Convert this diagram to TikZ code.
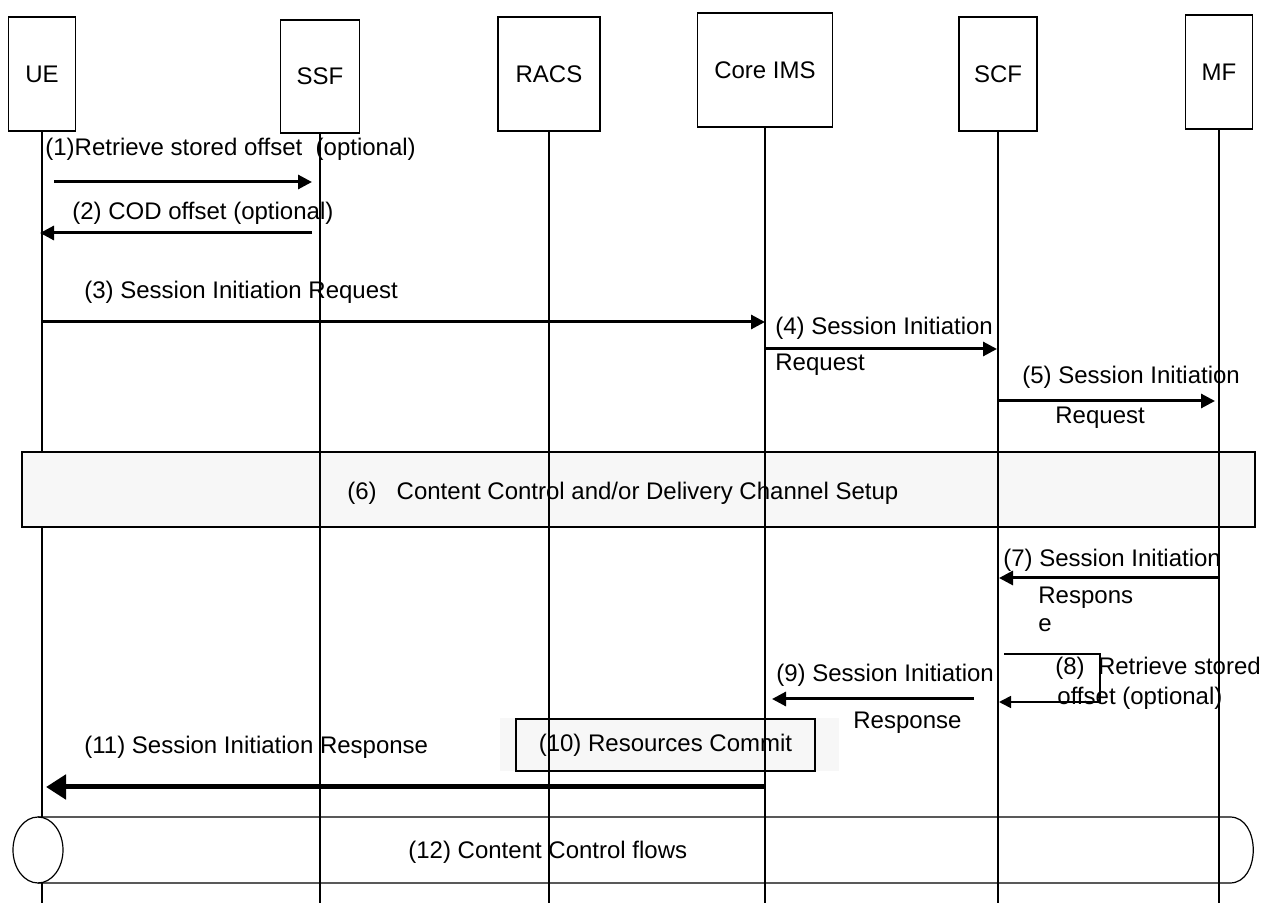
\documentclass[tikz,border=0pt]{standalone}
\usepackage{fontspec}
\setmainfont{Liberation Sans}
\usetikzlibrary{positioning, arrows.meta}

\begin{document}
\begin{tikzpicture}[x=0.5pt,y=-0.5pt,
  every node/.style={font=\fontsize{12}{14}\selectfont},
  actor/.style={draw,line width=0.6pt,inner sep=0pt,minimum height=57pt},
  life/.style={line width=0.6pt},
  msg/.style={line width=1.5pt,-{Triangle[length=7pt,width=7pt]}},
  bigmsg/.style={line width=2.5pt,-{Triangle[length=10pt,width=12pt]}},
  loopmsg/.style={line width=0.8pt,-{Triangle[length=6pt,width=6pt]}},
  lbl/.style={anchor=west,inner sep=0pt},
  phase/.style={draw,line width=0.6pt,fill=black!3,inner sep=0pt}]
\useasboundingbox (0,0) rectangle (1271,903);

% entities
\node[actor,minimum width=33.5pt] (ue) at (42,74) {UE};
\node[actor,minimum width=39.5pt,minimum height=56.5pt] (ssf) at (320,76.5) {SSF};
\node[actor,minimum width=51pt] (racs) at (549,74) {RACS};
\node[actor,minimum width=67.5pt] (ims) at (765,70) {Core IMS};
\node[actor,minimum width=39pt] (scf) at (998,74) {SCF};
\node[actor,minimum width=33.5pt] (mf) at (1219,72) {MF};

% shared steps
\node[phase,minimum width=616.5pt,minimum height=37.5pt] (setup) at (638.5,489.5) {};
\fill[black!3] (500,718) rectangle (839,771);
\node[phase,minimum width=149.5pt,minimum height=26pt] (commit) at (665.5,745) {(10) Resources Commit};

% lifelines
\coordinate (bottom) at (0,903);
\draw[life] (ue.south) -- (ue.south |- setup.north);
\draw[life] (ue.south |- setup.south) -- (ue.south |- 0,817);
\draw[life] (ue.south |- 0,883) -- (ue.south |- bottom);
\foreach \p in {ssf,racs,ims,scf,mf}{\draw[life] (\p.south) -- (\p.south |- bottom);}

% content control flows
\draw[life] (38,850) ellipse [x radius=12.5pt, y radius=16.5pt];
\draw[life] (38,817) -- (1230,817) .. controls (1261,817) and (1261,883) .. (1230,883) -- (38,883);
\node[lbl] (flows) at (408,852) {(12) Content Control flows};

\node[lbl] (setuptxt) at (347,493) {(6)\ \ \ Content Control and/or Delivery Channel Setup};

% messages
\coordinate (m1a) at (54,182);  \coordinate (m1b) at (312,182);
\coordinate (m2a) at (312,233); \coordinate (m2b) at (40,233);
\coordinate (m3a) at (42,322);  \coordinate (m3b) at (765,322);
\coordinate (m4a) at (765,349); \coordinate (m4b) at (997,349);
\coordinate (m5a) at (998,401); \coordinate (m5b) at (1215,401);
\coordinate (m7a) at (1218,578); \coordinate (m7b) at (999,578);
\coordinate (m8a) at (1004,654); \coordinate (m8b) at (1100,654);
\coordinate (m8c) at (1100,702); \coordinate (m8d) at (999,702);
\coordinate (m9a) at (974,699); \coordinate (m9b) at (772,699);
\coordinate (m11a) at (765,787); \coordinate (m11b) at (46,787);

\draw[msg] (m1a) -- (m1b);
\draw[msg] (m2a) -- (m2b);
\draw[msg] (m3a) -- (m3b);
\draw[msg] (m4a) -- (m4b);
\draw[msg] (m5a) -- (m5b);
\draw[msg] (m7a) -- (m7b);
\draw[loopmsg] (m8a) -- (m8b) -- (m8c) -- (m8d);
\draw[msg] (m9a) -- (m9b);
\draw[bigmsg] (m11a) -- (m11b);

% labels
\node[lbl] (l1) at (45,149) {(1)Retrieve stored offset\ \ (optional)};
\node[lbl] (l2) at (72,213) {(2) COD offset (optional)};
\node[lbl] (l3) at (84,292) {(3) Session Initiation Request};
\node[lbl] (l4a) at (775,328) {(4) Session Initiation};
\node[lbl] (l4b) at (775,365) {Request};
\node[lbl] (l5a) at (1022,377) {(5) Session Initiation};
\node[lbl] (l5b) at (1055,418) {Request};
\node[lbl] (l7a) at (1003,560) {(7) Session Initiation};
\node[lbl] (l7b) at (1038,598) {Respons};
\node[lbl] (l7c) at (1038,625) {e};
\node[lbl] (l8a) at (1055,668) {(8)\ \ Retrieve stored};
\node[lbl] (l8b) at (1057,698) {offset (optional)};
\node[lbl] (l9a) at (776,675) {(9) Session Initiation};
\node[lbl] (l9b) at (853,723) {Response};
\node[lbl] (l11) at (84,747) {(11) Session Initiation Response};
\end{tikzpicture}
\end{document}
